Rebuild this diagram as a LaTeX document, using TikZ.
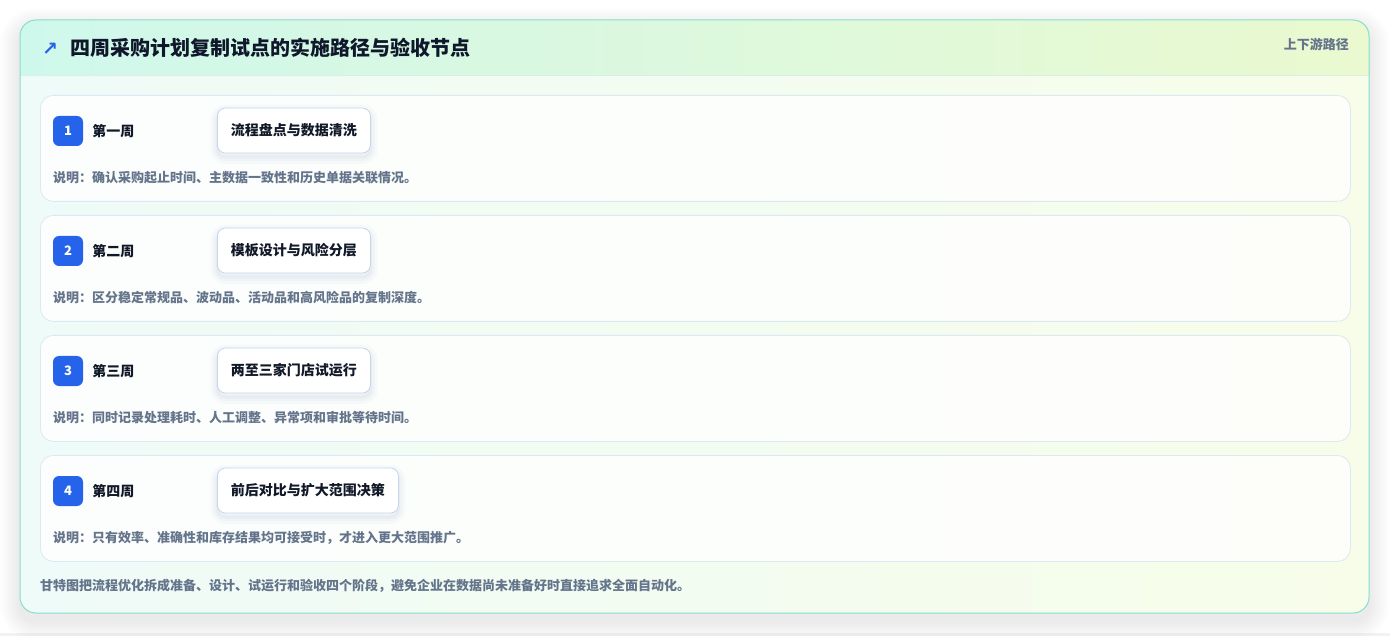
\documentclass[tikz,border=0pt]{standalone}
\usepackage{fontspec}
\setmainfont{Noto Sans CJK SC}
\newfontfamily\arrowfont{DejaVu Sans}
\usetikzlibrary{positioning}

\definecolor{cardline}{HTML}{86DFCB}
\definecolor{headleft}{HTML}{CFF8EC}
\definecolor{headright}{HTML}{EAF9CF}
\definecolor{bodyleft}{HTML}{EFFBF8}
\definecolor{bodyright}{HTML}{F7FDE9}
\definecolor{headrule}{HTML}{D6EFE8}
\definecolor{rowline}{HTML}{DCE8F2}
\definecolor{stepline}{HTML}{C5D5EE}
\definecolor{shadowink}{HTML}{1E3A8A}
\definecolor{badgeblue}{HTML}{2563EB}
\definecolor{titleink}{HTML}{0F172A}
\definecolor{weekink}{HTML}{111827}
\definecolor{noteink}{HTML}{64748B}

\tikzset{
  rowbox/.style={draw=rowline, line width=.8pt, fill=white, fill opacity=.8,
    rounded corners=13pt, inner sep=0pt, minimum width=1310pt, minimum height=106pt},
  badge/.style={fill=badgeblue, text=white, rounded corners=6pt, minimum size=30pt,
    inner sep=0pt, font=\fontsize{13}{15}\selectfont\bfseries},
  weeklabel/.style={inner sep=0pt, text=weekink, font=\fontsize{14}{16}\selectfont\bfseries},
  stepbox/.style={draw=stepline, line width=.8pt, fill=white, rounded corners=8pt,
    inner xsep=13.5pt, inner ysep=0pt, minimum height=45pt, text=weekink,
    font=\fontsize{14}{16}\selectfont\bfseries,
    preaction={draw=shadowink, draw opacity=.025, line width=14pt, transform canvas={yshift=-4pt}},
    preaction={draw=shadowink, draw opacity=.03, line width=8pt, transform canvas={yshift=-4pt}},
    preaction={draw=shadowink, draw opacity=.035, line width=3pt, transform canvas={yshift=-4pt}}},
  notetext/.style={inner sep=0pt, text=noteink, font=\fontsize{13}{15}\selectfont\bfseries},
}

\begin{document}
\begin{tikzpicture}[x=1pt,y=-1pt]
  \fill[white] (0,0) rectangle (1390,636);
  \useasboundingbox (0,0) rectangle (1390,636);
  \fill[black!5] (0,633) rectangle (1390,636);

  % card shadow
  \foreach \k in {2,4,...,20}
    \fill[black, opacity=.008, rounded corners=16pt+\k pt] (20-\k,20-\k+8) rectangle (1369+\k,613+\k+8);

  % card
  \shade[rounded corners=16pt, left color=bodyleft, right color=bodyright] (20,20) rectangle (1369,613);
  \begin{scope}
    \clip[rounded corners=16pt] (20,20) rectangle (1369,613);
    \shade[left color=headleft, right color=headright] (20,20) rectangle (1369,75);
  \end{scope}
  \draw[headrule] (20,75) -- (1369,75);
  \draw[cardline, line width=1pt, rounded corners=16pt] (20,20) rectangle (1369,613);

  % header
  \node[text=badgeblue, font=\fontsize{19}{21}\selectfont\arrowfont\bfseries] (icon) at (50,49) {↗};
  \node[anchor=west, inner sep=0pt, text=titleink, font=\fontsize{20}{22}\selectfont\bfseries]
    (title) at (70,48) {四周采购计划复制试点的实施路径与验收节点};
  \node[notetext, anchor=east] (tag) at (1349,44) {上下游路径};

  % weeks
  \foreach \i/\wk/\step/\note in {
      1/第一周/流程盘点与数据清洗/说明：确认采购起止时间、主数据一致性和历史单据关联情况。,
      2/第二周/模板设计与风险分层/说明：区分稳定常规品、波动品、活动品和高风险品的复制深度。,
      3/第三周/两至三家门店试运行/说明：同时记录处理耗时、人工调整、异常项和审批等待时间。,
      4/第四周/前后对比与扩大范围决策/说明：只有效率、准确性和库存结果均可接受时，才进入更大范围推广。}{
    \pgfmathsetmacro\rowy{95+120*(\i-1)}
    \node[rowbox, anchor=north west] (row\i) at (40,\rowy) {};
    \node[badge] (badge\i) at (68,{\rowy+36}) {\i};
    \node[weeklabel, right=9pt of badge\i] (week\i) {\wk};
    \node[stepbox, anchor=west] (step\i) at (217,{\rowy+35.5}) {\step};
    \node[notetext, anchor=west] (note\i) at (53,{\rowy+83}) {\note};
  }

  % summary
  \node[notetext, anchor=west] (summary) at (40,586)
    {甘特图把流程优化拆成准备、设计、试运行和验收四个阶段，避免企业在数据尚未准备好时直接追求全面自动化。};
\end{tikzpicture}
\end{document}
